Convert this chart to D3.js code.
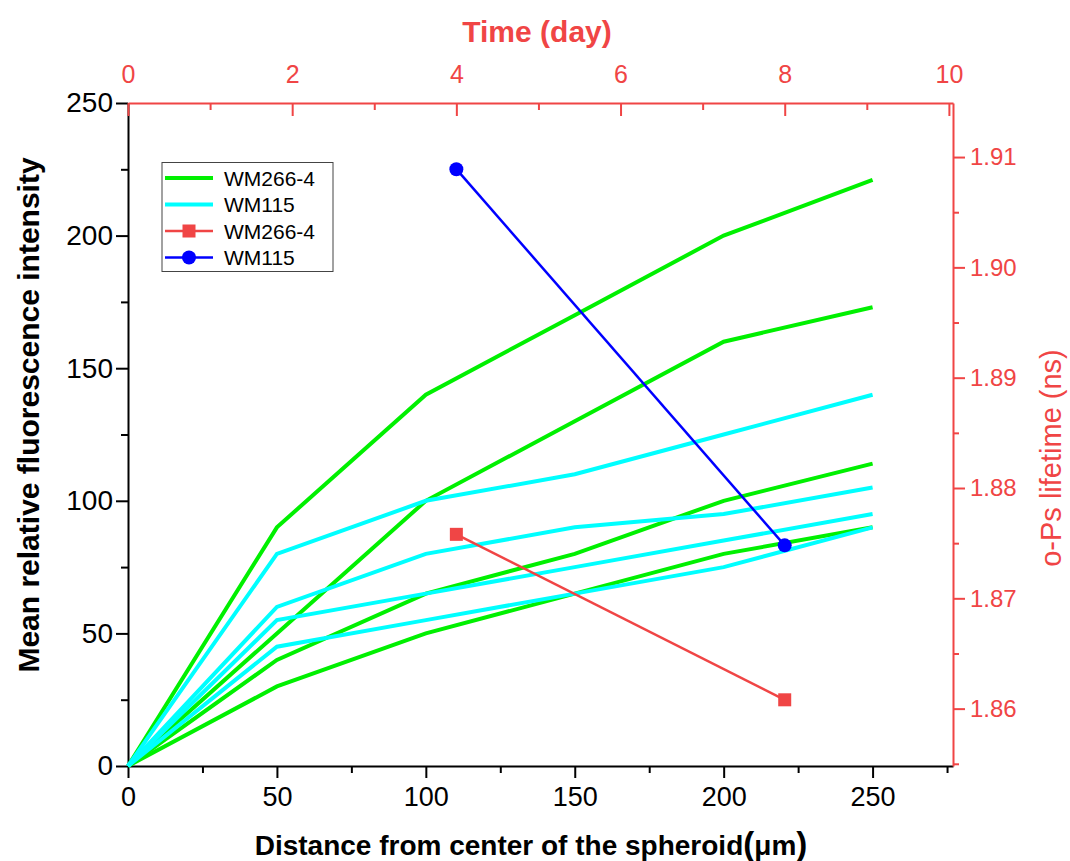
<!DOCTYPE html>
<html>
<head>
<meta charset="utf-8">
<script src="https://cdn.jsdelivr.net/npm/d3@7"></script>
<style>
  html, body { margin: 0; padding: 0; background: #fff; }
  svg { display: block; font-family: Arial, "Liberation Sans", sans-serif; }
</style>
</head>
<body>
<svg id="chart" width="1070" height="861"></svg>
<script>
// ---- Data ----
const distance = [0, 50, 100, 150, 200, 250];
const greenSeries = [
  [0, 90, 140, 170, 200, 221],
  [0, 50, 100, 130, 160, 173],
  [0, 40, 65, 80, 100, 114],
  [0, 30, 50, 65, 80, 90]
];
const cyanSeries = [
  [0, 80, 100, 110, 125, 140],
  [0, 60, 80, 90, 95, 105],
  [0, 55, 65, 75, 85, 95],
  [0, 45, 55, 65, 75, 90]
];
const timeDays = [4, 8];
const lifetimeWM266 = [1.8758, 1.8608];
const lifetimeWM115 = [1.9089, 1.8748];
const bottomTicks = [0, 50, 100, 150, 200, 250];
const leftTicks = [0, 50, 100, 150, 200, 250];
const topTicks = [0, 2, 4, 6, 8, 10];
const rightTicks = [1.86, 1.87, 1.88, 1.89, 1.90, 1.91];
const legendLabels = ["WM266-4", "WM115", "WM266-4", "WM115"];

// ---- Layout ----
const svg = d3.select("#chart");
const L = 128, R = 953, T = 103, B = 766;
const RED = "#f04545", GREEN = "#00f000", CYAN = "#00ffff", BLUE = "#0000ff";
const FONT = "Arial, 'Liberation Sans', sans-serif";

const x = d3.scaleLinear().domain([0, 277]).range([L, R]);
const y = d3.scaleLinear().domain([0, 250]).range([B, T]);
const xt = d3.scaleLinear().domain([0, 10.05]).range([L, R]);
const yr = d3.scaleLinear().domain([1.8548, 1.9149]).range([B, T]);

function styleAxis(g, color, size) {
  g.selectAll("line, path").attr("stroke", color).attr("stroke-width", 2);
  g.selectAll("text").attr("fill", color).attr("font-size", size).attr("font-family", FONT);
}
function minor(axisGen, tr, color) {
  const g = svg.append("g").attr("transform", tr).call(axisGen);
  g.select(".domain").remove();
  g.selectAll("line").attr("stroke", color).attr("stroke-width", 2);
}

// Bottom axis
const gB = svg.append("g").attr("transform", `translate(0,${B})`)
  .call(d3.axisBottom(x).tickValues(bottomTicks).tickSizeInner(12).tickSizeOuter(0).tickPadding(9).tickFormat(d3.format("d")));
styleAxis(gB, "#000", 27);
minor(d3.axisBottom(x).tickValues([25, 75, 125, 175, 225, 275]).tickSize(7).tickFormat(""), `translate(0,${B})`, "#000");

// Left axis
const gL = svg.append("g").attr("transform", `translate(${L},0)`)
  .call(d3.axisLeft(y).tickValues(leftTicks).tickSizeInner(12).tickSizeOuter(0).tickPadding(3).tickFormat(d3.format("d")));
styleAxis(gL, "#000", 28);
minor(d3.axisLeft(y).tickValues([25, 75, 125, 175, 225]).tickSize(7).tickFormat(""), `translate(${L},0)`, "#000");

// Top axis (red, ticks inward)
const gT = svg.append("g").attr("transform", `translate(0,${T})`)
  .call(d3.axisTop(xt).tickValues(topTicks).tickSizeInner(-13).tickSizeOuter(0).tickPadding(20).tickFormat(d3.format("d")));
styleAxis(gT, RED, 25);
minor(d3.axisTop(xt).tickValues([1, 3, 5, 7, 9]).tickSize(-7).tickFormat(""), `translate(0,${T})`, RED);

// Right axis (red)
const gR = svg.append("g").attr("transform", `translate(${R},0)`)
  .call(d3.axisRight(yr).tickValues(rightTicks).tickSizeInner(12).tickSizeOuter(0).tickPadding(5).tickFormat(d3.format(".2f")));
styleAxis(gR, RED, 24);
minor(d3.axisRight(yr).tickValues([1.855, 1.865, 1.875, 1.885, 1.895, 1.905]).tickSize(6).tickFormat(""), `translate(${R},0)`, RED);

// ---- Lines ----
const line = d3.line().x((d, i) => x(distance[i])).y(d => y(d));
const plot = svg.append("g");
greenSeries.forEach(s => {
  plot.append("path").datum(s).attr("d", line)
    .attr("fill", "none").attr("stroke", GREEN).attr("stroke-width", 4);
});
cyanSeries.forEach(s => {
  plot.append("path").datum(s).attr("d", line)
    .attr("fill", "none").attr("stroke", CYAN).attr("stroke-width", 4);
});

const lineR = d3.line().x((d, i) => xt(timeDays[i])).y(d => yr(d));
plot.append("path").datum(lifetimeWM266).attr("d", lineR)
  .attr("fill", "none").attr("stroke", RED).attr("stroke-width", 2.5);
plot.selectAll(".sq").data(lifetimeWM266).enter().append("rect")
  .attr("x", (d, i) => xt(timeDays[i]) - 6.5).attr("y", d => yr(d) - 6.5)
  .attr("width", 13).attr("height", 13).attr("fill", RED);
plot.append("path").datum(lifetimeWM115).attr("d", lineR)
  .attr("fill", "none").attr("stroke", BLUE).attr("stroke-width", 2.5);
plot.selectAll(".ci").data(lifetimeWM115).enter().append("circle")
  .attr("cx", (d, i) => xt(timeDays[i])).attr("cy", d => yr(d))
  .attr("r", 7).attr("fill", BLUE);

// ---- Legend ----
const lg = svg.append("g");
lg.append("rect").attr("x", 162).attr("y", 162.5).attr("width", 171).attr("height", 109)
  .attr("fill", "#fff").attr("stroke", "#444").attr("stroke-width", 1);
const legendY = [178, 204.5, 231, 257.5];
const legendColors = [GREEN, CYAN, RED, BLUE];
legendLabels.forEach((lab, i) => {
  const yy = legendY[i];
  lg.append("line").attr("x1", 165).attr("x2", 213).attr("y1", yy).attr("y2", yy)
    .attr("stroke", legendColors[i]).attr("stroke-width", i < 2 ? 4 : 2.5);
  if (i === 2) lg.append("rect").attr("x", 189 - 6.5).attr("y", yy - 6.5).attr("width", 13).attr("height", 13).attr("fill", RED);
  if (i === 3) lg.append("circle").attr("cx", 189).attr("cy", yy).attr("r", 7).attr("fill", BLUE);
  lg.append("text").attr("x", 224).attr("y", yy).attr("dy", "0.36em")
    .attr("font-size", 21).attr("fill", "#000").text(lab);
});

// ---- Titles ----
const bt = svg.append("text").attr("x", 531).attr("y", 855).attr("text-anchor", "middle")
  .attr("font-size", 28).attr("font-weight", "bold").attr("fill", "#000");
bt.append("tspan").text("Distance from center of the spheroid");
bt.append("tspan").attr("font-size", 33).text("(");
bt.append("tspan").attr("font-size", 28).text("μm");
bt.append("tspan").attr("font-size", 33).text(")");

svg.append("text").attr("transform", "translate(39,415) rotate(-90)").attr("text-anchor", "middle")
  .attr("font-size", 30).attr("font-weight", "bold").attr("fill", "#000")
  .text("Mean relative fluorescence intensity");

svg.append("text").attr("x", 537).attr("y", 42).attr("text-anchor", "middle")
  .attr("font-size", 30).attr("font-weight", "bold").attr("fill", RED).text("Time (day)");

svg.append("text").attr("transform", "translate(1061,458) rotate(-90)").attr("text-anchor", "middle")
  .attr("font-size", 29).attr("fill", RED).text("o-Ps lifetime (ns)");
</script>
</body>
</html>
